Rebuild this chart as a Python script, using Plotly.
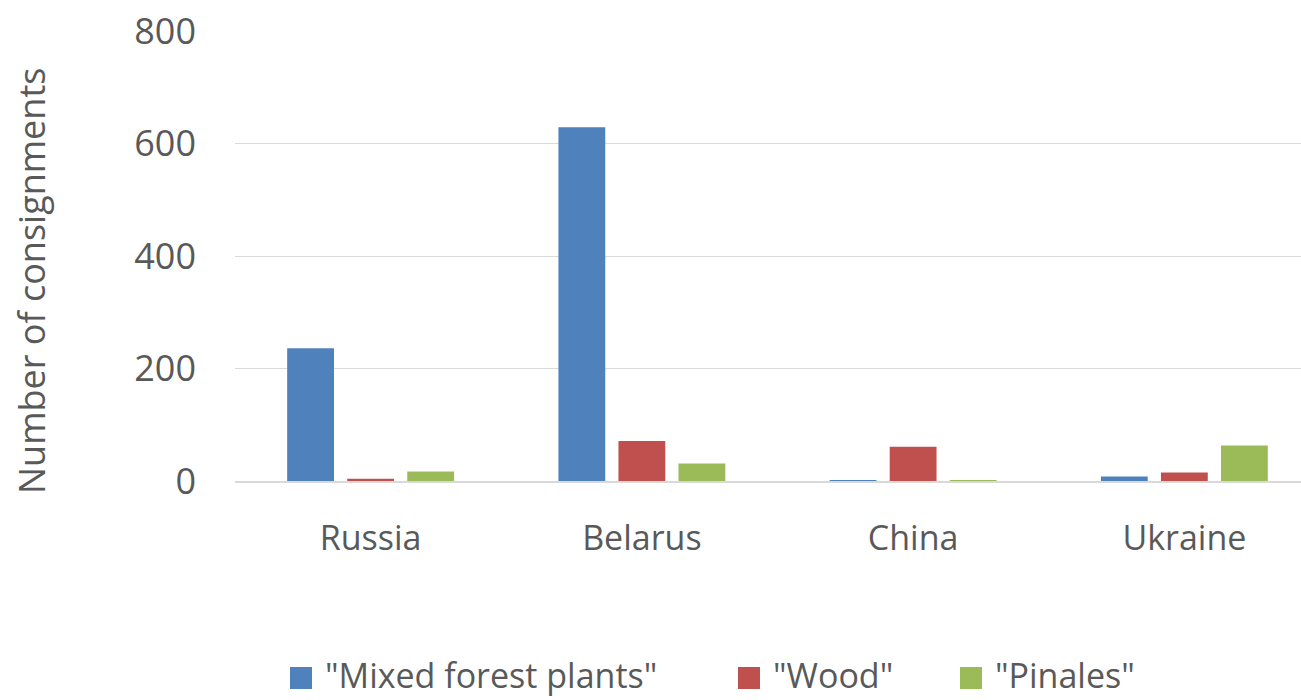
import plotly.graph_objects as go

categories = ["Russia", "Belarus", "China", "Ukraine"]
mixed_forest = [236, 629, 1, 8]
wood = [4, 71, 61, 15]
pinales = [17, 31, 1, 63]
y_ticks = [0, 200, 400, 600, 800]
series_names = ['"Mixed forest plants"', '"Wood"', '"Pinales"']
colors = ["#4f81bd", "#c0504d", "#9bbb59"]

FONT = "Open Sans"
GREY = "#595959"
L, R, T, B = 235, 0, 31, 219
PW = 1301 - L - R
PH = 700 - T - B

fig = go.Figure()
for name, vals, col in zip(series_names, [mixed_forest, wood, pinales], colors):
    fig.add_trace(go.Bar(x=categories, y=vals, name=name, marker_color=col,
                         marker_line_width=0, showlegend=False))

fig.update_layout(
    width=1301, height=700,
    margin=dict(l=L, r=R, t=T, b=B, autoexpand=False),
    paper_bgcolor="white", plot_bgcolor="white",
    barmode="group", bargap=0.336, bargroupgap=0.22,
    font=dict(family=FONT, color=GREY, size=34),
    showlegend=False,
)
fig.update_xaxes(range=[-0.5, 3.43], showgrid=False, showline=True, linecolor="#d9d9d9",
                 linewidth=2, ticks="", tickfont=dict(size=34, color=GREY),
                 ticklabelstandoff=26, automargin=False)
fig.update_yaxes(range=[0, 800], tickvals=y_ticks, showgrid=True, gridcolor="#d9d9d9",
                 gridwidth=1, zeroline=False, showline=False, ticks="",
                 tickfont=dict(size=36, color=GREY), ticklabelstandoff=38, automargin=False)
fig.add_annotation(text="Number of consignments", xref="paper", yref="paper",
                   x=-(L - 31) / PW, y=(700 - B - 281) / PH, textangle=-90, showarrow=False,
                   font=dict(size=36, color=GREY), xanchor="center", yanchor="middle")

# manual legend (bottom)
legend_marker_px = [290, 738, 960]
legend_y_px = 675
for name, col, mx in zip(series_names, colors, legend_marker_px):
    x0 = (mx - L) / PW
    x1 = (mx + 22 - L) / PW
    y0 = (700 - B - (legend_y_px + 14)) / PH
    y1 = (700 - B - (legend_y_px - 8)) / PH
    fig.add_shape(type="rect", xref="paper", yref="paper", x0=x0, x1=x1, y0=y0, y1=y1,
                  fillcolor=col, line_width=0)
    fig.add_annotation(text=name, xref="paper", yref="paper",
                       x=(mx + 33 - L) / PW, y=(700 - B - legend_y_px) / PH,
                       xanchor="left", yanchor="middle", showarrow=False,
                       font=dict(size=34, color=GREY))
fig.write_html("out.html")
